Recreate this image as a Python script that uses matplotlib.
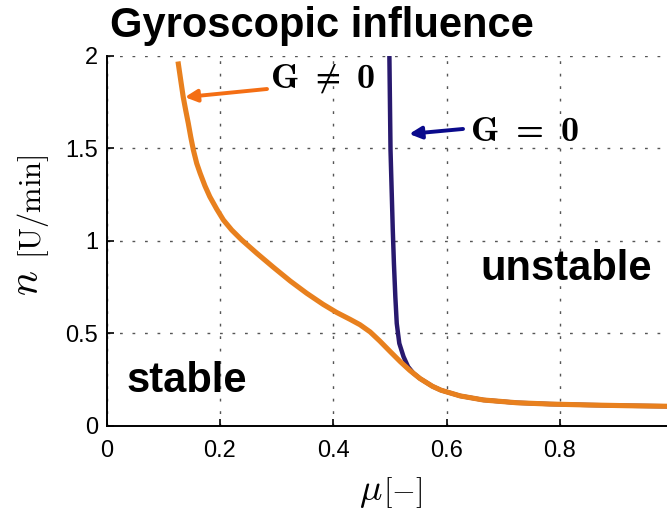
import numpy as np
import matplotlib.pyplot as plt

plt.rcParams['font.family'] = ['Liberation Sans', 'DejaVu Sans']
plt.rcParams['mathtext.fontset'] = 'cm'
# bold computer modern for the G labels
plt.rcParams['mathtext.bf'] = 'cmb10'
plt.rcParams['mathtext.rm'] = 'cmr10'
plt.rcParams['mathtext.fallback'] = 'cm'

# G != 0 (orange) and G = 0 (navy)
mu_g = [0.1265, 0.1306, 0.135, 0.1394, 0.144, 0.1483, 0.153, 0.1589, 0.165,
        0.1735, 0.182, 0.1942, 0.206, 0.2206, 0.238, 0.265, 0.294, 0.324,
        0.353, 0.382, 0.406, 0.4295, 0.447, 0.465, 0.482, 0.500, 0.518,
        0.535, 0.553, 0.575, 0.59, 0.624, 0.665, 0.724, 0.782, 0.85, 0.92,
        0.99, 1.0]
n_g = [1.955, 1.869, 1.778, 1.706, 1.635, 1.562, 1.49, 1.418, 1.364,
       1.296, 1.238, 1.171, 1.112, 1.058, 1.005, 0.932, 0.857, 0.782,
       0.716, 0.656, 0.612, 0.575, 0.546, 0.507, 0.458, 0.402, 0.347,
       0.299, 0.255, 0.213, 0.192, 0.161, 0.139, 0.124, 0.117, 0.112, 0.108,
       0.105, 0.105]

mu_0 = [0.499, 0.501, 0.505, 0.507, 0.5095, 0.512, 0.5165, 0.524, 0.532,
        0.541, 0.553, 0.575, 0.59, 0.624, 0.665, 0.724, 0.782, 0.85, 0.92,
        0.99, 1.0]
n_0 = [2.0, 1.49, 1.058, 0.878, 0.697, 0.553, 0.445, 0.373, 0.319,
       0.285, 0.255, 0.213, 0.192, 0.161, 0.139, 0.124, 0.117, 0.112, 0.108,
       0.105, 0.105]

xticks = [0, 0.2, 0.4, 0.6, 0.8]
xtick_labels = ['0', '0.2', '0.4', '0.6', '0.8']
yticks = [0, 0.5, 1, 1.5, 2]
ytick_labels = ['0', '0.5', '1', '1.5', '2']

W, H = 667, 512
fig = plt.figure(figsize=(W / 100, H / 100), dpi=100)
ax = fig.add_axes([106.7 / W, (H - 425.7) / H, 566.5 / W, 370 / H])

ax.plot(mu_0, n_0, color='#28196e', lw=3.2, solid_joinstyle='round')
ax.plot(mu_g, n_g, color='#e8801e', lw=3.7, solid_joinstyle='round')

ax.set_xlim(0, 1)
ax.set_ylim(0, 2)
ax.set_xticks(xticks)
ax.set_xticklabels(xtick_labels)
ax.set_yticks(yticks)
ax.set_yticklabels(ytick_labels)
ax.tick_params(direction='in', length=5, width=1.2, labelsize=17)
ax.tick_params(axis='x', pad=10)
ax.tick_params(axis='y', pad=6)
for s in ['top', 'right']:
    ax.spines[s].set_visible(False)
for s in ['left', 'bottom']:
    ax.spines[s].set_linewidth(1.4)
ax.grid(True, color='#555555', lw=1.0, linestyle=(0, (2, 7)))
ax.set_axisbelow(True)

# arrows + labels
ax.annotate('', xy=(0.138, 1.776), xytext=(0.283, 1.82),
            arrowprops=dict(arrowstyle='-|>', color='#f46e14', lw=2.8,
                            mutation_scale=18, shrinkA=0, shrinkB=0))
ax.annotate('', xy=(0.534, 1.577), xytext=(0.629, 1.604),
            arrowprops=dict(arrowstyle='-|>', color='#0a0a8c', lw=2.8,
                            mutation_scale=18, shrinkA=0, shrinkB=0))
ax.text(0.288, 1.825, r'$\mathbf{G}\;\neq\;\mathbf{0}$', fontsize=26,
        ha='left', va='baseline', math_fontfamily='custom')
ax.text(0.641, 1.539, r'$\mathbf{G\;=\;0}$', fontsize=26,
        ha='left', va='baseline', math_fontfamily='custom')

fig.text(110 / W, 1 - 37 / H, 'Gyroscopic influence', fontsize=30,
         fontweight='bold', ha='left', va='baseline')
fig.text(127 / W, 1 - 392 / H, 'stable', fontsize=30, fontweight='bold',
         ha='left', va='baseline')
fig.text(480 / W, 1 - 280 / H, 'unstable', fontsize=30, fontweight='bold',
         ha='left', va='baseline')

# axis labels (mixed sizes as in the reference)
fig.text(27 / W, 1 - 283 / H, r'$n$', fontsize=30, rotation=90,
         ha='center', va='center')
fig.text(33 / W, 1 - 207 / H, r'$\mathrm{[U/min]}$', fontsize=22, rotation=90,
         ha='center', va='center')
fig.text(371 / W, 1 - 500 / H, r'$\mu$', fontsize=27, ha='center', va='baseline')
fig.text(403 / W, 1 - 500 / H, r'$[-]$', fontsize=22, ha='center', va='baseline')

fig.savefig('out.png', dpi=100)
